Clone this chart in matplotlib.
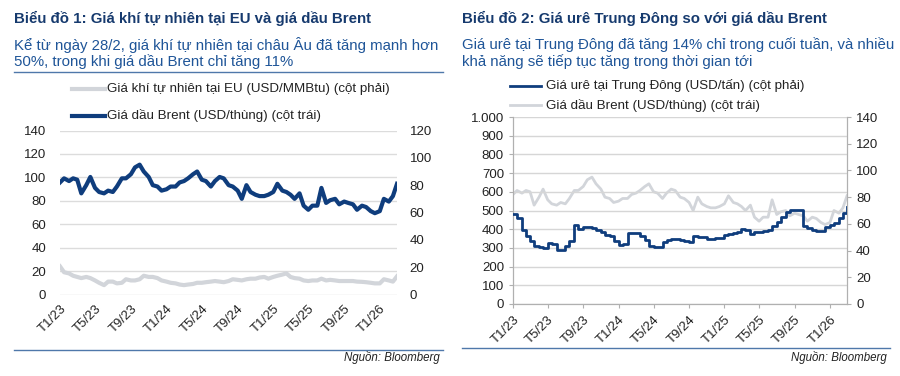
import pandas as pd
import matplotlib.pyplot as plt
from matplotlib.lines import Line2D

plt.rcParams['font.family'] = ['Liberation Sans', 'DejaVu Sans']

# Dữ liệu nửa tháng, từ 1/1/2023 đến 1/3/2026
dates = pd.date_range('2023-01-01', '2026-03-01', freq='SMS')

# Giá dầu Brent (USD/thùng)
brent = [82, 85, 83, 85, 84, 74, 80, 86, 78, 75, 74, 76, 75, 79, 85, 85, 88, 93, 95, 90, 86, 80, 79, 76,
         77, 79, 79, 82, 83, 85, 88, 90, 84, 83, 79, 83, 86, 85, 80, 79, 76, 70, 80, 75, 73, 72, 72, 73,
         75, 81, 76, 75, 73, 70, 74, 65, 62, 65, 65, 78, 67, 69, 70, 66, 68, 67, 66, 62, 65, 64, 61, 59.5,
         61, 70, 68, 72, 81]

# Giá khí tự nhiên tại EU (USD/MMBtu)
gas_eu = [24, 19, 18, 16, 15, 14, 15, 14, 12, 10, 8, 11, 11, 9.5, 10, 13, 12, 12, 13, 16, 15, 15, 14, 12,
          11, 10, 9.5, 8.5, 8, 8.5, 9, 10, 10, 10.5, 11, 11.5, 11, 10.5, 11.5, 13, 12.5, 12, 13, 13.5, 13.5, 14.5, 15, 13.5,
          15, 16, 17, 18, 15, 14, 13.5, 12, 11.5, 12, 12, 13.5, 12, 12.5, 12, 11.5, 11.5, 11.5, 11.5, 11, 10.8, 10.5, 10, 9.5,
          9.5, 13, 12, 11, 15.5]

# Giá urê tại Trung Đông (USD/tấn)
urea = [480, 462, 395, 365, 335, 310, 305, 300, 328, 320, 288, 288, 310, 338, 425, 400, 412, 410, 408, 398, 385, 368, 362, 335,
        318, 320, 380, 380, 378, 365, 340, 310, 303, 303, 330, 343, 346, 345, 343, 338, 334, 362, 360, 356, 350, 346, 352, 355,
        368, 375, 380, 385, 400, 395, 375, 385, 387, 388, 395, 415, 440, 465, 490, 505, 505, 505, 415, 408, 398, 392, 393, 412,
        420, 432, 460, 485, 521]

tick_dates = pd.date_range('2023-01-01', '2026-01-01', freq='4MS')
tick_labels = ['T%d/%d' % (d.month, d.year % 100) for d in tick_dates]

navy = '#0f3d7d'
light = '#d2d5da'
title_c = '#163a6e'
sub_c = '#1f5598'
rule_c = '#4f78aa'

W, H = 900, 376
fig = plt.figure(figsize=(9, 3.76), dpi=100)


def fx(px):
    return px / W


def fy(py):
    return 1 - py / H


def box(l, t, r, b):
    return [fx(l), fy(b), fx(r) - fx(l), (b - t) / H]


# ---------- Biểu đồ 1 ----------
fig.text(fx(14), fy(18), 'Biểu đồ 1: Giá khí tự nhiên tại EU và giá dầu Brent',
         fontsize=10.8, fontweight='bold', color=title_c, va='center')
fig.text(fx(14), fy(45), 'Kể từ ngày 28/2, giá khí tự nhiên tại châu Âu đã tăng mạnh hơn',
         fontsize=10.8, color=sub_c, va='center')
fig.text(fx(14), fy(62), '50%, trong khi giá dầu Brent chỉ tăng 11%',
         fontsize=10.8, color=sub_c, va='center')
fig.add_artist(Line2D([fx(14), fx(443)], [fy(72), fy(72)], color=rule_c, lw=1))

ax1 = fig.add_axes(box(60, 130.5, 397, 294.5))
ax1b = ax1.twinx()
ax1.plot(dates, gas_eu, color=light, lw=3, zorder=3)
ax1b.plot(dates, brent, color=navy, lw=3, zorder=3)
ax1.set_ylim(0, 140)
ax1.set_yticks(range(0, 141, 20))
ax1b.set_ylim(0, 120)
ax1b.set_yticks(range(0, 121, 20))
ax1.grid(axis='y', color='#dcdcdc', lw=1)
ax1.set_axisbelow(True)
for a in (ax1, ax1b):
    for s in a.spines.values():
        s.set_visible(False)
    a.tick_params(length=0, labelsize=9.5, colors='#222222')
ax1.tick_params(axis='y', pad=10)
ax1b.tick_params(axis='y', pad=9)
ax1.set_xlim(dates[0], dates[-1])
ax1.set_xticks(tick_dates)
ax1.set_xticklabels(tick_labels, rotation=45, ha='right', rotation_mode='anchor', fontsize=9.5)
ax1.tick_params(axis='x', pad=6)

fig.add_artist(Line2D([fx(72), fx(105)], [fy(89), fy(89)], color=light, lw=3))
fig.text(fx(107), fy(89), 'Giá khí tự nhiên tại EU (USD/MMBtu) (cột phải)', fontsize=9.6,
         color='#222222', va='center')
fig.add_artist(Line2D([fx(72), fx(105)], [fy(116), fy(116)], color=navy, lw=3))
fig.text(fx(107), fy(116), 'Giá dầu Brent (USD/thùng) (cột trái)', fontsize=9.6,
         color='#222222', va='center')

fig.add_artist(Line2D([fx(14), fx(443)], [fy(350), fy(350)], color=rule_c, lw=1))
fig.text(fx(440), fy(358), 'Nguồn: Bloomberg', fontsize=8.3, style='italic',
         color='#222222', ha='right', va='center')

# ---------- Biểu đồ 2 ----------
fig.text(fx(462), fy(18), 'Biểu đồ 2: Giá urê Trung Đông so với giá dầu Brent',
         fontsize=10.8, fontweight='bold', color=title_c, va='center')
fig.text(fx(462), fy(45), 'Giá urê tại Trung Đông đã tăng 14% chỉ trong cuối tuần, và nhiều',
         fontsize=10.8, color=sub_c, va='center')
fig.text(fx(462), fy(62), 'khả năng sẽ tiếp tục tăng trong thời gian tới',
         fontsize=10.8, color=sub_c, va='center')

ax2 = fig.add_axes(box(513, 117, 847, 304))
ax2b = ax2.twinx()
ax2b.plot(dates, brent, color=light, lw=2, zorder=2)
ax2.plot(dates, urea, color=navy, lw=2, drawstyle='steps-post', zorder=3)
ax2.set_zorder(ax2b.get_zorder() + 1)
ax2.patch.set_visible(False)
ax2.set_ylim(0, 1000)
ax2.set_yticks(range(0, 1001, 100))
ax2.set_yticklabels(['0', '100', '200', '300', '400', '500', '600', '700', '800', '900', '1.000'])
ax2b.set_ylim(0, 140)
ax2b.set_yticks(range(0, 141, 20))
ax2b.grid(False)
ax2.grid(axis='y', color='#d6d6d6', lw=1)
ax2.set_axisbelow(True)
for a in (ax2, ax2b):
    a.spines['top'].set_visible(False)
    for s in ('left', 'right', 'bottom'):
        a.spines[s].set_color('#b0b0b0')
    a.tick_params(length=3, color='#b0b0b0', labelsize=9.5, labelcolor='#222222')
ax2.set_xlim(dates[0], dates[-1])
ax2.set_xticks(tick_dates)
ax2.set_xticklabels(tick_labels, rotation=45, ha='right', rotation_mode='anchor', fontsize=9.5)
ax2.tick_params(axis='x', pad=4)

fig.add_artist(Line2D([fx(510), fx(541)], [fy(86), fy(86)], color=navy, lw=2))
fig.text(fx(546), fy(86), 'Giá urê tại Trung Đông (USD/tấn) (cột phải)', fontsize=9.6,
         color='#222222', va='center')
fig.add_artist(Line2D([fx(510), fx(541)], [fy(105), fy(105)], color=light, lw=2))
fig.text(fx(546), fy(105), 'Giá dầu Brent (USD/thùng) (cột trái)', fontsize=9.6,
         color='#222222', va='center')

fig.add_artist(Line2D([fx(462), fx(890)], [fy(348), fy(348)], color=rule_c, lw=1))
fig.text(fx(887), fy(357), 'Nguồn: Bloomberg', fontsize=8.3, style='italic',
         color='#222222', ha='right', va='center')

fig.savefig('out.png', dpi=100)
